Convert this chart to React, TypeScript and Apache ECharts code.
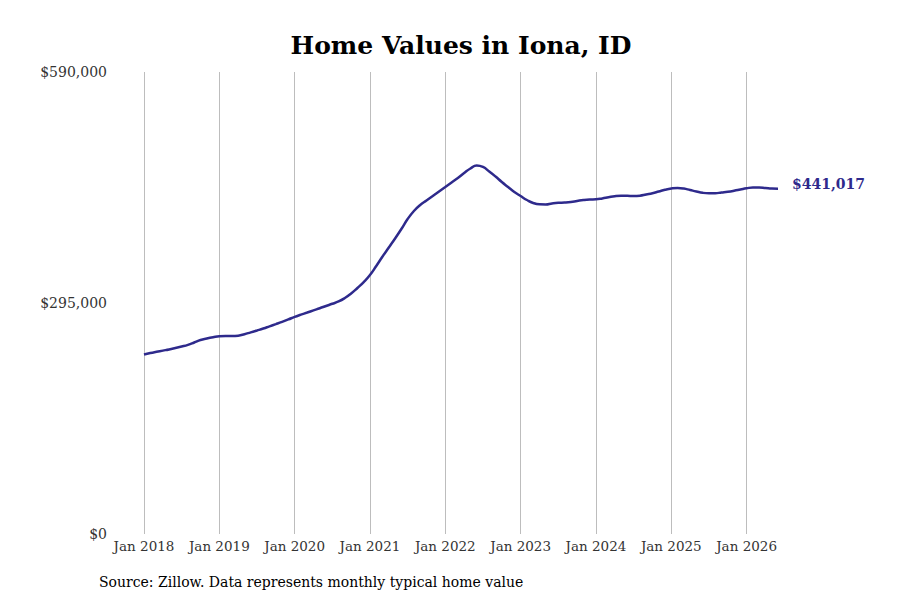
import { useEffect, useRef } from "react";
import * as echarts from "echarts";

// monthly typical home value, Jan 2018 - Jun 2026
const years = [2018, 2019, 2020, 2021, 2022, 2023, 2024, 2025, 2026];
const monthNames = ["Jan", "Feb", "Mar", "Apr", "May", "Jun", "Jul", "Aug", "Sep", "Oct", "Nov", "Dec"];

const homeValues = [
  // 2018
  229200, 231100, 232700, 234200, 235700, 237500, 239400, 241600, 244600, 247800, 249700, 251300,
  // 2019
  252600, 252900, 252800, 253300, 255100, 257500, 259900, 262400, 265200, 268000, 270900, 274000,
  // 2020
  277300, 280100, 282800, 285600, 288300, 291200, 294000, 297000, 301400, 307100, 314200, 321800,
  // 2021
  330800, 342300, 354400, 365900, 377400, 389500, 402300, 412500, 420200, 425900, 431600, 437400,
  // 2022
  443100, 448900, 454600, 461000, 466800, 470600, 468700, 462900, 456500, 449500, 443100, 436800,
  // 2023
  431600, 426500, 422700, 421000, 420800, 422100, 423000, 423300, 424000, 425300, 426500, 427200,
  // 2024
  427400, 428500, 430000, 431400, 432000, 431900, 431600, 432000, 433600, 435200, 437400, 439600,
  // 2025
  441200, 441900, 441200, 439300, 437400, 435700, 435100, 435200, 436100, 437000, 438300, 439900,
  // 2026
  441500, 442500, 442500, 441900, 441200, 441017,
];

const months: string[] = [];
years.forEach((y) => monthNames.forEach((m) => months.push(`${m} ${y}`)));
const categories = months.slice(0, homeValues.length);

const yMax = 590000;
const yStep = 295000;

const lineColor = "#2e2a8c";
const font = "DejaVu Serif";

function fmtMoney(v: number) {
  return "$" + Math.round(v).toLocaleString("en-US");
}

function HomeValueChart() {
  const chartRef = useRef<HTMLDivElement>(null);

  useEffect(() => {
    const chart = echarts.init(chartRef.current, null, { renderer: "svg" });

    chart.setOption({
      animation: false,
      title: {
        text: "Home Values in Iona, ID",
        left: 456,
        top: 28,
        textAlign: "center",
        textStyle: {
          fontFamily: font,
          fontWeight: "bold",
          fontSize: 25,
          color: "#000",
        },
      },
      grid: { left: 144, right: 122, top: 72, bottom: 66 },
      xAxis: {
        type: "category",
        data: categories,
        boundaryGap: false,
        axisLine: { show: false },
        axisTick: { show: false },
        axisLabel: {
          interval: 11,
          margin: 5,
          fontFamily: font,
          fontSize: 13.5,
          color: "#333",
        },
        splitLine: {
          show: true,
          interval: 11,
          lineStyle: { color: "#bdbdbd", width: 1 },
        },
      },
      yAxis: {
        type: "value",
        min: 0,
        max: yMax,
        interval: yStep,
        axisLine: { show: false },
        axisTick: { show: false },
        splitLine: { show: false },
        axisLabel: {
          margin: 37,
          fontFamily: font,
          fontSize: 14,
          color: "#333",
          formatter: (v: number) => fmtMoney(v),
        },
      },
      series: [
        {
          type: "line",
          data: homeValues,
          smooth: true,
          showSymbol: false,
          lineStyle: { color: lineColor, width: 2.5 },
          endLabel: {
            show: true,
            distance: 14,
            offset: [0, -5],
            formatter: (p: any) => fmtMoney(p.value),
            fontFamily: font,
            fontWeight: "bold",
            fontSize: 14,
            color: lineColor,
          },
        },
      ],
      graphic: [
        {
          type: "text",
          left: 99,
          top: 575,
          style: {
            text: "Source: Zillow. Data represents monthly typical home value",
            fontFamily: font,
            fontSize: 14,
            fill: "#000",
          },
        },
      ],
    });

    return () => {
      chart.dispose();
    };
  }, []);

  return <div ref={chartRef} style={{ width: "100%", height: "100%" }} />;
}

export default function App() {
  return (
    <div style={{ position: "fixed", left: 0, top: 0, width: 900, height: 600, background: "#fff" }}>
      <HomeValueChart />
    </div>
  );
}
